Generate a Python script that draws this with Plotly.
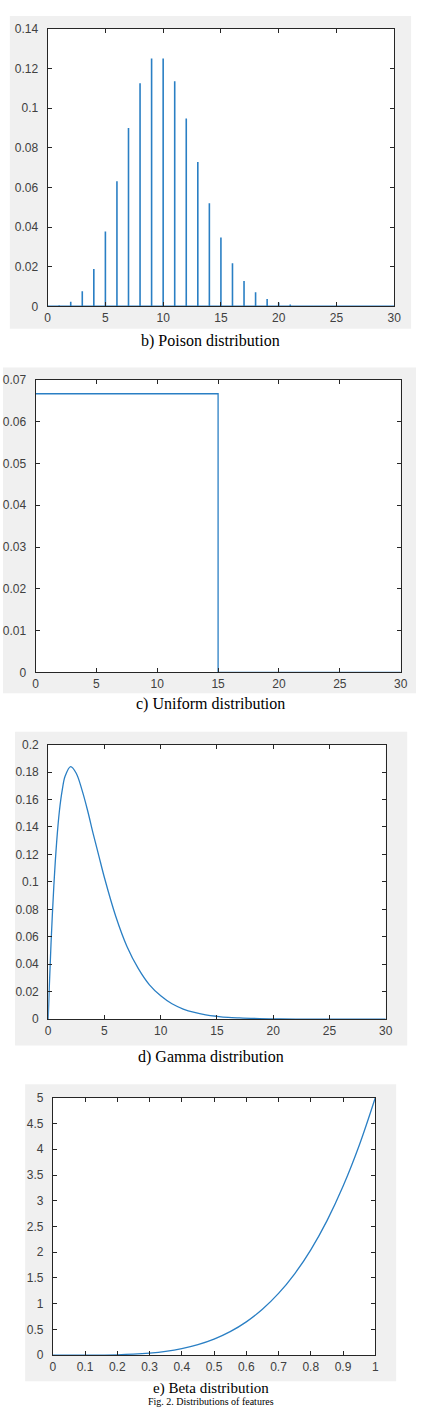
import plotly.graph_objects as go

W, H = 423, 1415

# ---------------- data ----------------
# b) Poisson distribution (stem heights at integer k)
poisson_k = list(range(0, 31))
poisson_p = [0.00005, 0.0005, 0.0023, 0.0076, 0.0189, 0.0378, 0.0631, 0.0901,
             0.1126, 0.1251, 0.1251, 0.1137, 0.0948, 0.0729, 0.0521, 0.0347,
             0.0217, 0.0128, 0.0071, 0.0037, 0.0019, 0.0009, 0.0004, 0.0002,
             0.0001, 0.00004, 0.00002, 0.0, 0.0, 0.0, 0.0]

# c) Uniform distribution
uniform_x = [0, 15, 15, 30]
uniform_y = [0.0667, 0.0667, 0.0, 0.0]

# d) Gamma distribution
gamma_x = [0, 0.1, 0.25, 0.5, 0.75, 1, 1.25, 1.5, 2, 2.5, 3, 3.5, 4, 4.5, 5, 6, 7, 8, 9, 10,
           11, 12, 13, 14, 15, 16, 17, 18, 20, 22, 25, 30]
gamma_y = [0.0, 0.024, 0.055, 0.097, 0.129, 0.152, 0.167, 0.177, 0.184, 0.179, 0.167,
           0.152, 0.135, 0.119, 0.103, 0.075, 0.053, 0.037, 0.025, 0.017, 0.0112,
           0.0074, 0.0049, 0.0032, 0.0021, 0.0013, 0.0009, 0.0006, 0.0002, 0.0001,
           0.00003, 0.0]

# e) Beta distribution
beta_x = [0, 0.1, 0.2, 0.25, 0.3, 0.35, 0.4, 0.45, 0.5, 0.55, 0.6, 0.65, 0.7, 0.75,
          0.8, 0.85, 0.9, 0.95, 1.0]
beta_y = [0.0, 0.0005, 0.008, 0.0195, 0.0405, 0.075, 0.128, 0.205, 0.3125, 0.4575,
          0.648, 0.8925, 1.2005, 1.582, 2.048, 2.61, 3.2805, 4.0725, 5.0]

captions = ["b) Poison distribution", "c) Uniform distribution",
            "d) Gamma distribution", "e) Beta distribution"]
footer = "Fig. 2. Distributions of features"

# ---------------- layout geometry (pixels) ----------------
# (plot left, right, top, bottom), (gray left, right, top, bottom), caption y, caption size
panels = [
    ((45.7, 400.7, 22.3, 302.3), (7, 418, 9, 325), 337, 16),
    ((33.3, 407.3, 376.7, 672.0), (0, 423, 364, 693), 704, 16),
    ((46.3, 392.0, 745.0, 1022.3), (12.3, 414, 732, 1049), 1060, 16),
    ((51.0, 381.3, 1101.7, 1361.7), (22.7, 402.7, 1088, 1388), 1395, 15),
]

LINE = "#2a7fc4"

fig = go.Figure()

# Poisson stems: baseline + spikes
px_, py_ = [], []
for k, p in zip(poisson_k, poisson_p):
    px_ += [k, k, k]
    py_ += [0, p, 0]
fig.add_trace(go.Scatter(x=[0] + px_ + [30], y=[0] + py_ + [0], mode="lines",
                         line=dict(color=LINE, width=1.6), xaxis="x", yaxis="y",
                         showlegend=False))
fig.add_trace(go.Scatter(x=uniform_x, y=uniform_y, mode="lines",
                         line=dict(color=LINE, width=1.3), xaxis="x2", yaxis="y2",
                         showlegend=False))
fig.add_trace(go.Scatter(x=gamma_x, y=gamma_y, mode="lines", line_shape="spline",
                         line=dict(color=LINE, width=1.3), xaxis="x3", yaxis="y3",
                         showlegend=False))
fig.add_trace(go.Scatter(x=beta_x, y=beta_y, mode="lines", line_shape="spline",
                         line=dict(color=LINE, width=1.3), xaxis="x4", yaxis="y4",
                         showlegend=False))

xranges = [[0, 30], [0, 30], [0, 30], [0, 1]]
xdt = [5, 5, 5, 0.1]
yranges = [[0, 0.14], [0, 0.07], [0, 0.2], [0, 5]]
ydt = [0.02, 0.01, 0.02, 0.5]

tickfont = dict(family="Liberation Sans, Arial, sans-serif", size=12, color="#404040")
serif = "Liberation Serif, Times New Roman, serif"
shapes, annotations = [], []
layout = {}
for i, ((l, r, t, b), (gl, gr, gt, gb), cy, cs) in enumerate(panels):
    sfx = "" if i == 0 else str(i + 1)
    common = dict(showline=True, linecolor="#262626", linewidth=1, mirror="ticks",
                  ticks="inside", ticklen=4, tickcolor="#262626", tickwidth=1,
                  showgrid=False, zeroline=False, tickfont=tickfont, fixedrange=True)
    layout["xaxis" + sfx] = dict(domain=[l / W, r / W], range=xranges[i],
                                 tick0=0, dtick=xdt[i], anchor="y" + sfx, **common)
    layout["yaxis" + sfx] = dict(domain=[1 - b / H, 1 - t / H], range=yranges[i],
                                 tick0=0, dtick=ydt[i], anchor="x" + sfx,
                                 ticklabelstandoff=6, **common)
    shapes.append(dict(type="rect", xref="paper", yref="paper", layer="below",
                       x0=gl / W, x1=gr / W, y0=1 - gb / H, y1=1 - gt / H,
                       fillcolor="#f0f0f0", line=dict(width=0)))
    shapes.append(dict(type="rect", xref="paper", yref="paper", layer="below",
                       x0=l / W, x1=r / W, y0=1 - b / H, y1=1 - t / H,
                       fillcolor="white", line=dict(width=0)))
    annotations.append(dict(text=captions[i], xref="paper", yref="paper",
                            x=213 / W, y=1 - cy / H, xanchor="center", yanchor="middle",
                            showarrow=False, borderpad=0,
                            font=dict(family=serif, size=cs, color="#000000")))

annotations.append(dict(text=footer, xref="paper", yref="paper",
                        x=213 / W, y=0, xanchor="center", yanchor="bottom",
                        showarrow=False, borderpad=0,
                        font=dict(family=serif, size=10, color="#000000")))

fig.update_layout(width=W, height=H, margin=dict(l=0, r=0, t=0, b=0),
                  paper_bgcolor="white", plot_bgcolor="rgba(0,0,0,0)",
                  shapes=shapes, annotations=annotations, **layout)

fig.write_html("out.html", config={"displayModeBar": False})
